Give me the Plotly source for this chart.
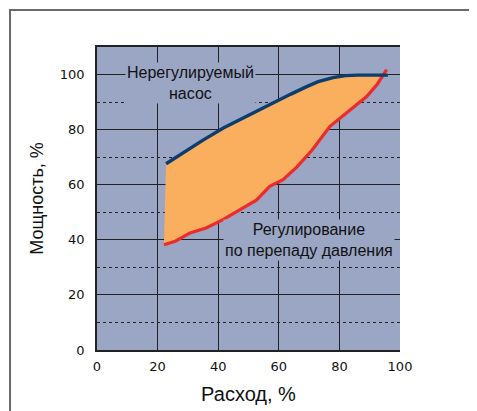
import plotly.graph_objects as go

# Data
blue_x = [22.8, 26, 30, 35, 41.7, 46, 50, 55, 59.3, 64, 69.2, 73, 77.9, 82, 86, 91, 96]
blue_y = [67.6, 69.9, 72.7, 76.2, 80.6, 83.0, 85.2, 87.9, 90.3, 92.9, 95.6, 97.4, 98.9, 99.6, 99.8, 99.8, 99.8]
red_x = [22.1, 26, 30.7, 36, 41.6, 47, 52.7, 57, 61.4, 66, 71, 76.9, 83, 89, 92.5, 95.6]
red_y = [38.2, 39.6, 42.5, 44.3, 47.3, 50.8, 54.5, 59.4, 61.8, 66.5, 72.6, 81.2, 86.5, 92.0, 96.5, 101.8]

x_ticks = [0, 20, 40, 60, 80, 100]
y_ticks = [0, 20, 40, 60, 80, 100]
x_title = "Расход, %"
y_title = "Мощность, %"
label_top = "Нерегулируемый<br>насос"
label_bottom = "Регулирование<br>по перепаду давления"

BG = "#9AA6C4"
fig = go.Figure()

# filled band between curves
fig.add_trace(go.Scatter(
    x=blue_x + red_x[::-1], y=blue_y + red_y[::-1],
    fill="toself", fillcolor="#F9AF5E", mode="none", hoverinfo="skip",
    showlegend=False))
fig.add_trace(go.Scatter(x=red_x, y=red_y, mode="lines",
                         line=dict(color="#EE2B2B", width=3.2),
                         showlegend=False))
fig.add_trace(go.Scatter(x=blue_x, y=blue_y, mode="lines",
                         line=dict(color="#0B3D6E", width=3.4),
                         showlegend=False))

txt_font = dict(family="Liberation Sans, Arial, sans-serif", size=16, color="#111")
fig.add_annotation(x=30.7, y=96.9, text=label_top, showarrow=False, font=txt_font,
                   bgcolor=BG, align="center")
fig.add_annotation(x=70, y=40, text=label_bottom, showarrow=False, font=txt_font,
                   bgcolor=BG, align="center")

# outer frame
fig.add_shape(type="rect", xref="paper", yref="paper", x0=-0.287, x1=1.3, y0=-0.4, y1=1.122,
              line=dict(color="#6B6B6B", width=2), layer="below")

tick_font = dict(family="DejaVu Sans, sans-serif", size=13, color="#111")
fig.update_layout(
    width=477, height=411,
    margin=dict(l=89, r=85, t=39, b=69, autoexpand=False),
    paper_bgcolor="white", plot_bgcolor=BG,
    xaxis=dict(range=[0, 100], tickvals=x_ticks, showgrid=True, gridcolor="#222",
               gridwidth=1.2, zeroline=False, showline=True, linecolor="#222",
               linewidth=1.5, mirror=True, tickfont=tick_font, ticks="", automargin=False,
               ticklabelstandoff=4,
               title=dict(text=x_title, font=dict(family="Liberation Sans, Arial", size=20, color="#111"),
                          standoff=14)),
    yaxis=dict(range=[0, 110], tickvals=y_ticks, showgrid=True, gridcolor="#222",
               gridwidth=1.2, zeroline=False, showline=True, linecolor="#222",
               linewidth=1.5, tickfont=tick_font, ticks="", automargin=False,
               ticklabelstandoff=8,
               minor=dict(dtick=10, tick0=0, showgrid=True, gridcolor="#222",
                          griddash="dot", gridwidth=1),
               title=dict(text=y_title, font=dict(family="Liberation Sans, Arial", size=18, color="#111"),
                          standoff=12)),
)

fig.write_html("out.html")
